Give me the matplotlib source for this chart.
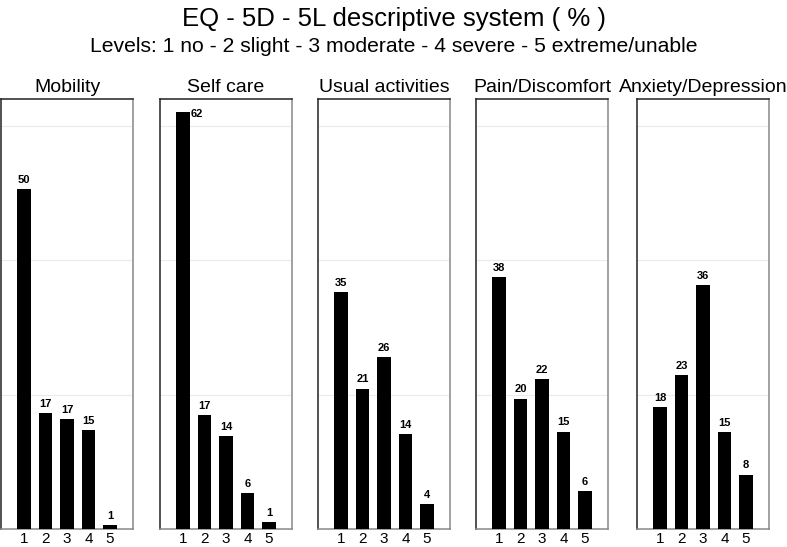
import matplotlib.pyplot as plt
import numpy as np

plt.rcParams['font.family'] = ['Liberation Sans', 'DejaVu Sans']

levels = ['1', '2', '3', '4', '5']
dimensions = ['Mobility', 'Self care', 'Usual activities', 'Pain/Discomfort', 'Anxiety/Depression']

mobility = [50.6, 17.3, 16.3, 14.7, 0.6]
self_care = [62.0, 17.0, 13.8, 5.4, 1.0]
usual = [35.3, 20.9, 25.6, 14.1, 3.7]
pain = [37.5, 19.4, 22.3, 14.5, 5.7]
anxiety = [18.1, 22.9, 36.3, 14.4, 8.1]

mobility_lab = [50, 17, 17, 15, 1]
self_care_lab = [62, 17, 14, 6, 1]
usual_lab = [35, 21, 26, 14, 4]
pain_lab = [38, 20, 22, 15, 6]
anxiety_lab = [18, 23, 36, 15, 8]

heights = [mobility, self_care, usual, pain, anxiety]
labels = [mobility_lab, self_care_lab, usual_lab, pain_lab, anxiety_lab]

W, H = 787, 547
fig = plt.figure(figsize=(W / 100, H / 100), dpi=100)

lefts = [1, 160, 318, 476, 637]
pw = 132
top, bottom = 99, 529
ymax = 64

x = np.arange(1, 6)
for i, name in enumerate(dimensions):
    ax = fig.add_axes([lefts[i] / W, 1 - bottom / H, pw / W, (bottom - top) / H])
    ax.bar(x, heights[i], width=0.65, color='black', zorder=3)
    for xi, h, lab in zip(x, heights[i], labels[i]):
        if h + 4 > ymax:
            ax.text(xi + 0.35, h - 0.3, str(lab), ha='left', va='center',
                    fontsize=8, fontweight='bold')
        else:
            ax.annotate(str(lab), (xi, h), xytext=(0, 3), textcoords='offset points',
                        ha='center', va='bottom', fontsize=8, fontweight='bold')
    ax.set_xlim(-0.07, 6.07)
    ax.set_ylim(0, ymax)
    ax.set_xticks(x)
    ax.set_xticklabels(levels, fontsize=11)
    ax.set_yticks([20, 40, 60])
    ax.tick_params(axis='both', length=0, pad=2)
    ax.tick_params(axis='y', labelleft=False)
    ax.grid(axis='y', color='#ebebeb', lw=0.8, zorder=0)
    ax.spines['left'].set_color('#222222')
    ax.spines['top'].set_color('#222222')
    ax.spines['right'].set_color('#888888')
    ax.spines['bottom'].set_color('#888888')
    for s in ax.spines.values():
        s.set_linewidth(1.1)
    ax.set_title(name, fontsize=14, pad=5)

fig.text(0.5, 1 - 19 / H, 'EQ - 5D - 5L descriptive system ( % )', ha='center', va='center', fontsize=18.5)
fig.text(0.5, 1 - 46 / H, 'Levels: 1 no - 2 slight - 3 moderate - 4 severe - 5 extreme/unable',
         ha='center', va='center', fontsize=15.2)

fig.savefig('out.png', dpi=100)
